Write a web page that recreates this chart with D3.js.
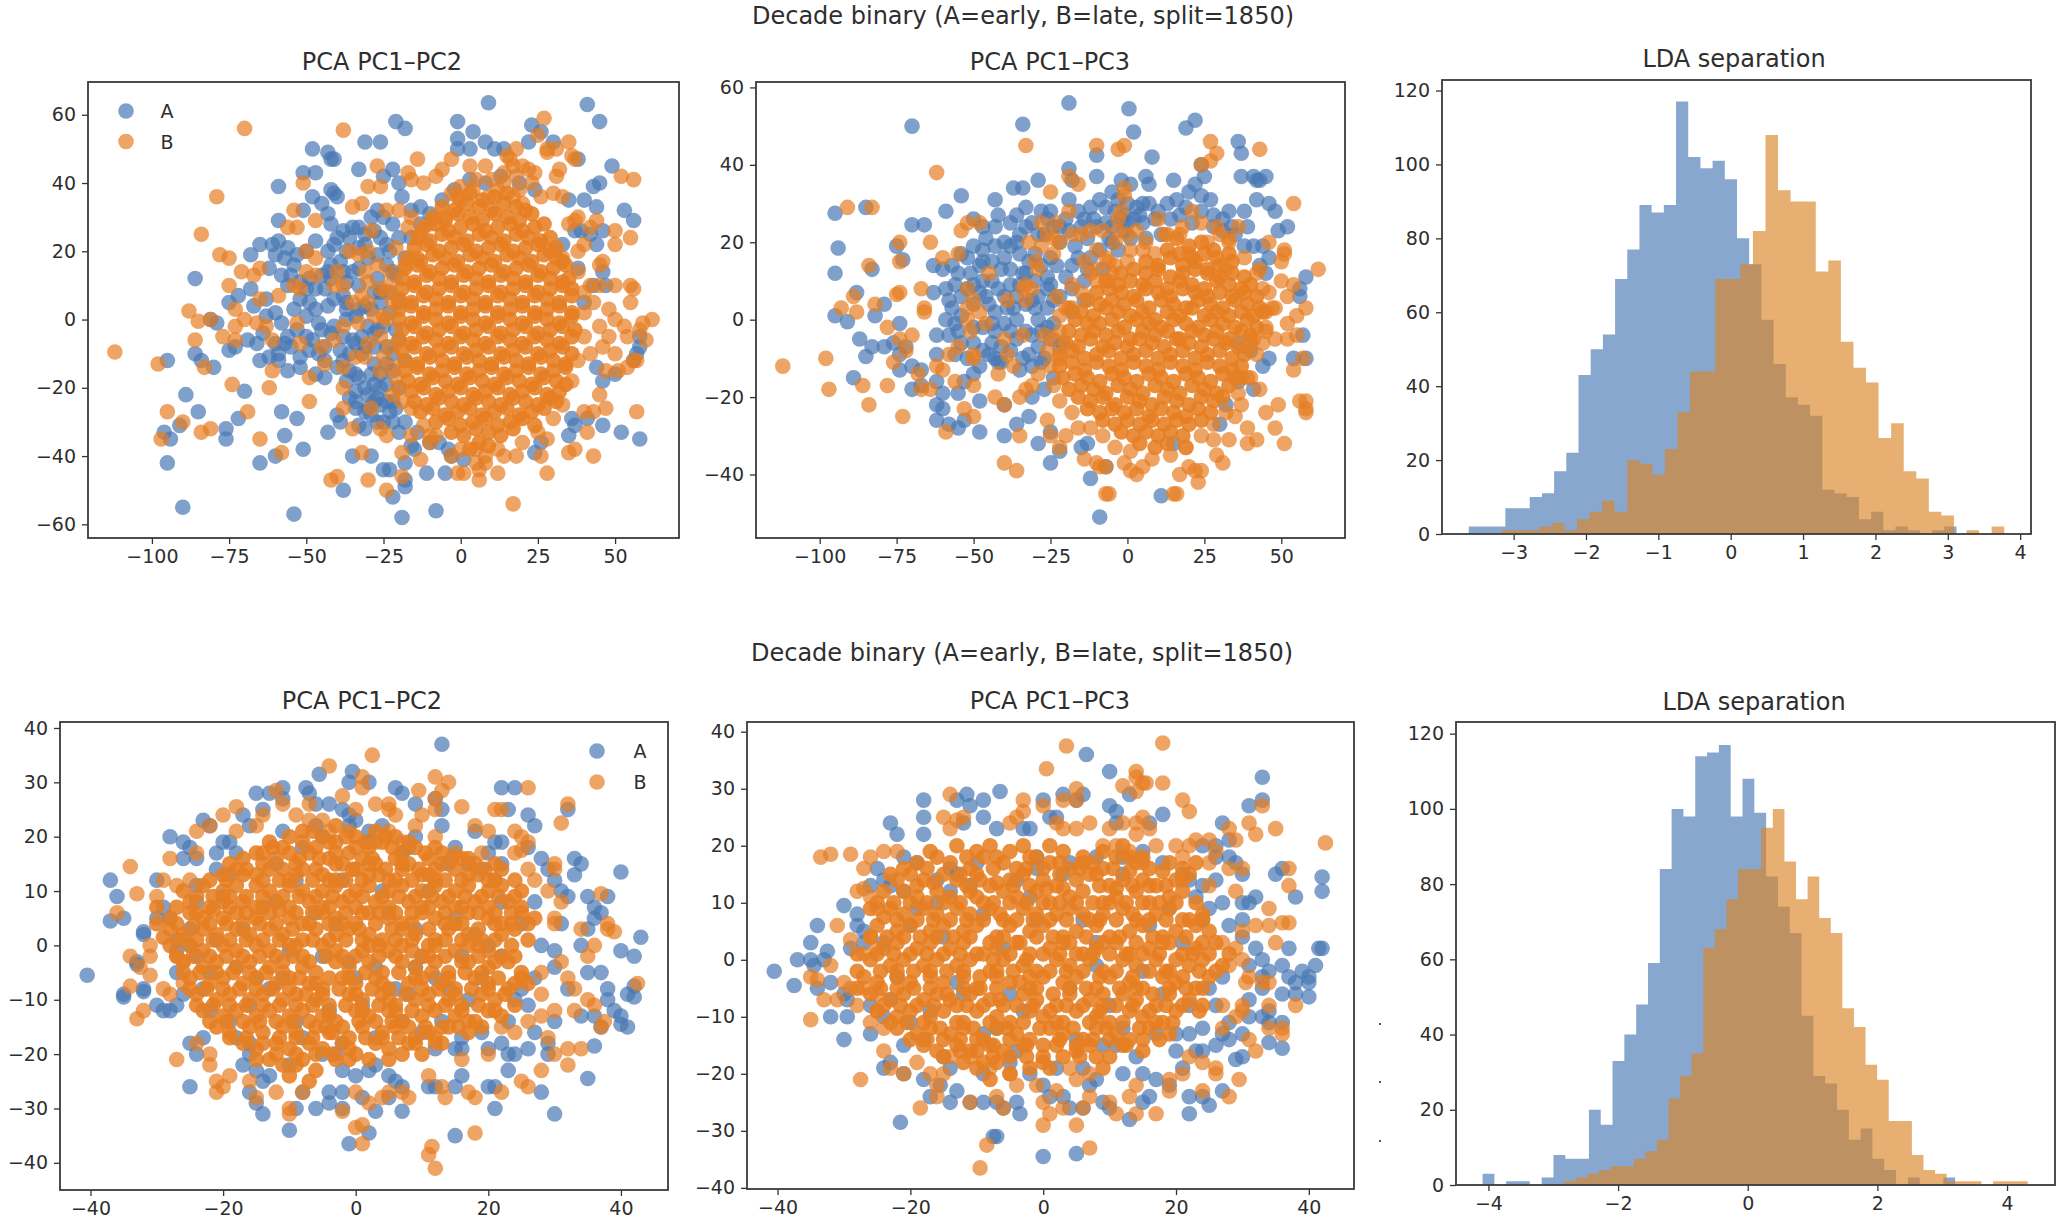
<!DOCTYPE html>
<html><head><meta charset="utf-8">
<style>html,body{margin:0;background:#fff}svg{display:block}text{font-family:"DejaVu Sans";fill:#2e2e2e}</style>
<script src="https://cdnjs.cloudflare.com/ajax/libs/d3/7.8.5/d3.min.js"></script></head><body><script>
const BLUE="#4878b4",ORANGE="#e67e22",HIST_ORANGE="#da8526";
const classLabels=["A","B"];
const superTitle="Decade binary (A=early, B=late, split=1850)";

// LDA histograms: counts per bin and the range the bins cover
const ldaTopA=[2,2,2,7,7,10,11,17,22,43,50,54,69,77,89,87,89,117,102,99,101,96,80,73,58,46,37,35,32,12,11,10,4,6,1,2,1,0,1,2];
const ldaTopB=[1,1,1,2,3,1,4,6,9,6,20,19,16,23,33,44,44,69,69,73,82,108,93,90,90,71,74,52,45,41,26,30,17,15,6,5,0,1,0,2];
const ldaBotA=[3,0,1,1,0,2,8,7,7,20,16,33,40,48,59,84,100,98,114,115,117,98,108,99,82,74,67,45,29,27,20,12,15,7,4,0,2,0,0,2];
const ldaBotB=[1,2,3,4,5,5,7,9,12,23,29,35,63,68,76,84,84,95,100,86,76,82,71,67,47,42,32,28,17,17,8,4,3,1,1,1,0,1,1,1];

// Top row, PC1 against PC2 (flat x,y lists)
const top12A=[9,63.5,41,63,45,58,-21,58,-18,56,-1,58,-1,53,4,55,-1,50,3,50,8,52,11,50,14,50,22,52,23,57,26,55,30,52,-31,52,-26,52,-48,50,-43,49,-42,47,-41,47,38,47,49,45,-33,44,-22,44,-20,40,-25,42,-51,43,-47,43,-59,39,-42,38,-41,37,-40,36,-48,36,-45,34,-51,32,-43,31,-42,28,-59,29,43,39,45,40,40,35,35,35,44,33,53,32,56,29,37,26,39,26,-38,26,-35,27,-33,27,-31,25,-29,30,-28,26,-27,32,-25,30,-22,28,-19,36,-16,32,-13,33,-65,22,-61,22,-59,23,-56,21,-60,19,-54,16,-50,20,-47,23,-43,20,-41,22,-42,16,-39,17,-37,20,-33,21,-30,18,-27,19,-24,16,-22,14,-68,19,-86,12,-68,9,-72,7,-75,5,-67,4,-63,6,-60,2,-58,-1,-52,6,-49,5,-47,3,-45,-3,-41,-2,-38,-5,-35,-6,-32,-5,-30,-2,-36,-10,-44,-8,-46,-10,-53,-3,-56,-5,-60,-7,-64,-4,-66,-7,-69,-6,-73,-8,-75,-9,-79,-1,-81,0,-59,-10,-62,-11,-65,-12,-52,-11,-52,-14,-56,-15,-59,-12,-47,-16,-44,-17,-86,-10,-84,-12,-80,-14,-95,-12,-89,-22,-85,-27,-91,-31,-96,-33,-94,-35,-76,-32,-76,-35,-72,-29,-70,-21,-58,-27,-53,-29,-57,-34,-51,-38,-60,-40,-65,-42,-95,-42,-90,-55,-54,-57,-19,-58,-8,-56,-22,-52,-18,-49,-18,-47,-38,-50,-18,-42,-11,-45,-5,-45,-25,-44,-23,-44,-35,-40,-29,-40,-43,-33,-39,-30,-40,-28,-33,-31,-31,-32,-29,-28,-25,-30,-22,-30,-20,-33,-16,-37,-15,-38,-7,-36,-3,-40,24,-39,26,-36,36,-29,37,-31,46,-31,52,-33,58,-35,46,-18,44,-14,50,-16,56,-12,58,-8,58,-5,57,-10,42,25,44,22,46,26,33,22,43,10,46,14,47,10,38,15,40,5,-33,-17,-31,-20,-30,-22,-28,-19,-27,-23,-34,-21,-36,-23,-26,-20,-24,-24,-22,-15,-20,-20,-18,-12,-24,-8,-21,-3,-20,5,-26,8,-29,3,-33,10,-37,11,-42,12,-47,9,-52,11,-55,13,-57,18,-24,-13,-28,-13,-32,-10,-40,-14,-37,-18,-23,2,-27,-3,-34,1,-37,5,-43,4,-48,-6,-39,-9,-26,-16,-23,-27,-20,24,-24,22,-27,12,-31,4,-35,14,-38,7,-28,-8,-25,-2,-22,-10,-20,-6,-26,5,-23,8,-21,13,-18,18,-16,24,-13,28,-10,31,-6,35,-2,38,3,41,8,40,13,42,19,40,24,38,-30,-26,-27,-30,-24,-19,-21,-26,-18,-30,-14,-33,-10,-36,-4,-38,1,-41,35,-34,41,-29,-34,-26,-36,-15,-45,13,-50,9,-44,-12,-49,-9,-55,-8,-54,3,-50,1,-46,-1,-42,-4,-37,0,-33,3,-31,-8,-28,-4,-34,-7,-41,6,-44,9,-49,12,-53,19,-58,13,-62,15,-56,10,-63,1,-57,-7,-50,-5,-38,-12,-34,-16,-29,-16,-26,-25,-34,-24,-31,-27,-22,-24,-28,-24,-40,24,-36,24,-31,22,-26,24,-23,20,-28,8,-33,15,-38,14,-43,14,-37,3];
const top12B=[-70,56,-38,55.5,27,59,25,54,35,52,28,50,31,50,-27,45,-51,40,-79,36,-30,39,-26,39,52,42,56,41,-14,47,-17,43,-16,41,-35,33,-32,34,-54,32,-47,29,-29,26,-56,27,-53,27,-84,25,50,26,55,24,50,22,-78,19,-75,18,-71,14,-67,13,-65,15,-75,10,-88,2.5,-85,-0.5,-81,0,-73,3,-70,0,-65,6,-59,7,-54,10,-52,9,-50,14,-50,20,-47,18,-47,13,-40,14,-38,10,-41,10,-36,20,-33,19,-30,20,-31,14,-27,16,-30,11,-35,5,-32,7,-26,9,-23,10,-22,5,-30,5,-28,1,-25,1,-63,-2,-61,-6,-73,-2,-77,-5,-73,-6,-86,-6,-112,-9.5,-98,-13,-83,-14,-66,-1,-53,-1,-52,-7,-45,-8,-41,-6,-38,-2,-33,-1,-30,-7,-26,-5,-44,-13,-38,-14,-34,-11,-31,-11,-25,-11,-26,-15,-61,-15,-49,-17,-74,-19,-62,-20,-38,-20,-49,-24,-69,-27,-38,-26,-29,-26,-22,-22,-95,-27,-90,-30,-81,-32,-84,-33,-97,-35,-65,-35,-58,-39,-35,-32,-26,-32,-24,-34,-32,-39,-19,-39,-13,-41,-40,-46,-42,-47,-30,-47,-24,-50,-19,-46,-16,-34,-10,-34,-3,-40,-10,-36,-1,-45,1,-45,6,-47,12,-45,17,-54,5,-42,8,-40,14,-40,18,-40,26,-40,28,-45,35,-39,37,-38,43,-40,28,-35,41,-33,40,-27,43,-27,47,-26,57,-27,45,-22,51,-15,54,-14,56,-12,57,-12,47,-15,60,-6,58,-3,59,-1,62,0,55,5,55,10,56,9,50,10,46,17,45,10,42,10,43,5,50,0,53,-2,48,-5,50,-10,42,-10,46,-8,54,-5,45,-2,48,3,15,48,18,50,17,45,14,43,8,45,3,45,-3,47,-6,44,22,44,24,43,32,44,31,42,36,48,37,47,28,49,33,36,30,37,26,36,35,28,38,30,37,29,44,29,42,27,38,20,40,22,33,18,45,16,-12,40,-8,42,-3,37,0,35,4,38,9,36,12,38,17,36,20,34,-5,30,-16,30,-20,32,-17,27,-13,25,-10,28,-24,32,-21,21,-18,16,-14,18,14,40,18,42,20,45,16,47,19,38,23,40,10,41,5,41,0,39,5,-38,8,-42,6,-44,0,-38,12,-38,20,-36,25,-33,30,-29,33,-25,36,-18,38,-12,40,-5,40,2,40,8,38,14,-16,-26,-20,-20,-22,-14,-23,-8,-24,0,-24,8,-23,14,-21,-17,-19,-24,-12,-31,-8,-34];
const top12Core=[-1,36,3,37,7,35,11,36,15,37,-6,33,-2,32,2,34,6,33,10,32,14,34,18,33,21,32,-9,30,-5,29,-1,31,3,30,7,29,11,31,15,30,19,29,23,31,-12,27,-8,28,-4,26,0,27,4,28,8,26,12,27,16,28,20,26,24,27,27,28,-14,24,-10,23,-6,25,-2,24,2,23,6,25,10,24,14,23,18,25,22,24,26,23,29,24,-15,21,-11,22,-7,20,-3,21,1,22,5,20,9,21,13,22,17,20,21,21,25,22,29,20,31,21,-17,18,-13,17,-9,19,-5,18,-1,17,3,19,7,18,11,17,15,19,19,18,23,17,27,19,31,18,33,17,-18,15,-14,16,-10,14,-6,15,-2,16,2,14,6,15,10,16,14,14,18,15,22,16,26,14,30,15,34,16,-19,12,-15,11,-11,13,-7,12,-3,11,1,13,5,12,9,11,13,13,17,12,21,11,25,13,29,12,33,11,35,12,-19,9,-15,10,-11,8,-7,9,-3,10,1,8,5,9,9,10,13,8,17,9,21,10,25,8,29,9,33,10,36,9,-20,6,-16,5,-12,7,-8,6,-4,5,0,7,4,6,8,5,12,7,16,6,20,5,24,7,28,6,32,5,36,7,-20,3,-16,4,-12,2,-8,3,-4,4,0,2,4,3,8,4,12,2,16,3,20,4,24,2,28,3,32,4,36,2,-20,0,-16,-1,-12,1,-8,0,-4,-1,0,1,4,0,8,-1,12,1,16,0,20,-1,24,1,28,0,32,-1,36,1,-19,-3,-15,-2,-11,-4,-7,-3,-3,-2,1,-4,5,-3,9,-2,13,-4,17,-3,21,-2,25,-4,29,-3,33,-2,37,-3,-20,-6,-16,-7,-12,-5,-8,-6,-4,-7,0,-5,4,-6,8,-7,12,-5,16,-6,20,-7,24,-5,28,-6,32,-7,36,-5,-19,-9,-15,-8,-11,-10,-7,-9,-3,-8,1,-10,5,-9,9,-8,13,-10,17,-9,21,-8,25,-10,29,-9,33,-8,36,-10,-18,-12,-14,-13,-10,-11,-6,-12,-2,-13,2,-11,6,-12,10,-13,14,-11,18,-12,22,-13,26,-11,30,-12,34,-13,-18,-15,-14,-14,-10,-16,-6,-15,-2,-14,2,-16,6,-15,10,-14,14,-16,18,-15,22,-14,26,-16,30,-15,34,-14,-17,-18,-13,-19,-9,-17,-5,-18,-1,-19,3,-17,7,-18,11,-19,15,-17,19,-18,23,-19,27,-17,31,-18,34,-19,-16,-21,-12,-20,-8,-22,-4,-21,0,-20,4,-22,8,-21,12,-20,16,-22,20,-21,24,-20,28,-22,32,-21,-15,-24,-11,-25,-7,-23,-3,-24,1,-25,5,-23,9,-24,13,-25,17,-23,21,-24,25,-25,29,-23,31,-24,-13,-27,-9,-26,-5,-28,-1,-27,3,-26,7,-28,11,-27,15,-26,19,-28,23,-27,27,-26,-8,-30,-4,-29,0,-31,4,-30,8,-29,12,-31,16,-30,20,-29,24,-31,-3,-33,1,-34,5,-32,9,-33,13,-34,17,-32,6,-36,9,-37,3,-38];

// Top row, PC1 against PC3
const top13A=[-19,56,0.5,54.5,-70,50,-34,50.5,22,51.5,19,49.5,2,48.5,36,46,37,43,8,42,-10,42.5,-19,39,24,40,-18,36,-10,37,-2,36,1,35,6,37,7,35,15,36,22,35,25,37,37,37,41,37,42,36,43,36,45,37,-29,36,-34,34,-37,34,-54,32,-59,28,-43,31,-95,27.5,-85,29,-70,24.5,-66,24.5,-50,26,-47,24,-42,27,-38,25,-36,27,-33,29,-28,28,-25,28,-19,31,-16,28,-9,31,-5,33,-3,31,0,30,3,29,10,28,13,30,16,31,20,33,24,32,27,31,33,28,38,28,42,31,46,30,48,28,49,23,52,24,44,19,46,16,45,12,58,11,56,8,56,6,-94,18.5,-95,12,-83,13,-75,19,-73,15.5,-63,14,-60,13,-57,14,-54,17,-50,19,-47,18,-43,19,-40,16,-35,17,-32,15,-28,14,-25,16,-22,20,-19,23,-15,24,-11,26,-7,25,-5,24,-2,26,5,25,-63,7,-59,8,-56,9,-54,6,-51,12,-47,10,-44,10,-41,13,-38,9,-34,12,-30,10,-57,3,-59,0,-54,1,-50,4,-46,6,-43,2,-40,6,-37,3,-33,4,-29,0,-26,3,-22,6,-18,8,-62,-4,-58,-4,-55,-3,-50,-6,-47,-2,-44,-6,-40,-1,-36,-5,-33,-3,-29,-7,-25,-5,-62,-9,-56,-9,-52,-10,-48,-12,-45,-9,-42,-11,-38,-8,-34,-10,-31,-12,-27,-10,-95,1,-91,-0.5,-87,-5,-85,-9.5,-83,-7,-79,-7,-74,-1,-72,-7,-76,-6,-74,-9,-88,7,-79,4,-82,1,-89,-15,-74,-13,-70,-12,-67,-13,-70,-18,-67,-17,-62,-16,-60,-19,-62,-22,-60,-23,-62,-26,-58,-27,-55,-28,-53,-26,-55,-19,-53,-16,-50,-14,-48,-21,-48,-29,-40,-30,-40,-22,-36,-27,-32,-25,-29,-32,-25,-37,-25,-29,-22,-34,-15,-33,-13,-32,-12,-41,-7,-38,-31,-20,-27,-18,-24,-15,-9,-51,11,-45.5,15,-32,58,-10,54,-10,46,-10,57,-4,41,-18,36,-16,32,-22,30,-27,40,-8,36,-6,44,-12,-12,29,-7,29,-1,27,5,30,9,26,19,29,28,24,31,26,35,22,39,24,41,19,43,14,-14,26,-20,26,-24,24,-29,22,-33,24,-36,20,-43,24,-38,13,-44,15,-48,14,-52,8,-56,-1,-43,-3,-36,0,-31,5,-26,8,-28,-3,-35,-13,-41,-7,-47,-8,-23,14,-20,11,-16,16,-13,21,-10,24,-6,21,-3,18,1,21,4,27,7,30,11,22,14,26,17,27,21,25,24,28,28,27,31,23,34,24,38,19,-26,11,-30,17,-35,22,-40,20,-46,21,-52,16,-48,7,-42,8,-36,6,-30,3,-24,-1,-21,-6,-25,9,-18,14,-14,10,-12,16,-8,13,-5,20,-1,23,2,26,-27,22,-31,25,-26,26,-22,24,-17,19,-13,13,-9,18,-4,28,0,25,6,21,-38,19,-33,12,-29,6,-24,5,-18,2,-14,5,-44,-1,-39,3,-35,9,-31,-4,-26,-2,-22,-7,-45,4,-50,9,-55,12,-58,5,-47,15,-41,-11,-38,-3,-32,-9,-28,-11,-50,-2,-54,-6,-43,-10];
const top13B=[-112,-12,-98,-10,-97,-18,-86,-17,-84,-22,-78,-17,-73,-25,-82,4,-88,2,-93,3,-89,6,-84,14,-74,15,-75,6.5,-74,7,-67,8,-66,3,-66,2,-78,-2,-62,38,-91,29,-83,29,-74,20,-64,20,-60,16,-54,23,-52,25,-48,25,-33,45,-10,45,-3,44,-1,45,-32,20,-28,25,-25,33,-19,37,-16,35,-1,34,-1,32,27,46,29,43,27,41,24,40,43,44,54,30,-2,28,3,23,-3,26,-3,23,0,22,-23,25,-26,22,-22,20,-18,22,-15,22,-12,23,-8,23,-19,28,-24,21,-28,19,-24,17,-30,15,-29,13,-33,9,-31,8,-52,8,-50,5,-52,3,-48,2,-52,0,-51,-3,-55,-7,-50,-9,-58,-9,-60,-13,-56,-16,-62,-12,-70,-4,-74,-5,-72,-8,-76,-11,-68,-14,-64,-18,-67,-18,-46,-1,-40,-5,-39,-9,-37,-12,-34,-4,-33,5,-27,-4,-22,-3,-20,3,-18,9,-14,15,-10,18,-7,16,-4,14,-4,20,1,18,-22,-10,-26,-8,-29,-14,-31,-17,-35,-20,-42,-14,-43,-20,-40,-22,-50,-17,-53,-23,-50,-25,-59,-29,-35,-30,-33,-18,-26,-26,-25,-30,-22,-33,-20,-30,-16,-28,-14,-36,-10,-37,-9,-38,-7,-38,-40,-37,-36,-39,-6,-45,-7,-45,-1,-37,1,-39,3,-40,5,-38,15,-45,16,-45,17,-40,20,-38,19,-33,22,-39,24,-39,23,-42,29,-35,31,-37,28,-31,33,-31,39,-32,42,-31,39,-28,45,-24,49,-22,51,-32,56,-21,58,-21,58,-24,58,-23,54,-13,57,-10,48,-5,45,-3,52,-5,55,-4,52,-1,58,3,55,1,48,3,52,6,50,10,54,9,50,15,51,18,51,17,62,13,45,2,44,8,46,20,43,13,30,22,33,20,36,24,32,13,26,20,20,17,17,22,13,22,10,26,21,28,9,17,6,20,-6,10,-10,13,-18,3,-23,6,-39,5,-34,8,-45,12,-55,17,-50,-10,48,-28,37,-22,35,-25,40,-15,43,-18,44,-6,41,-5,37,-15,-24,-5,-25,-12,-24,-17,-22,-21,-18,-24,-12,-28,-8,-30,-4,-33,1,-34,8,-36,14,-35,19,-33,24,-30,28,-27,32,-24,36,-19,39,-15,42,-9,45,-2,47,3,46,7,42,12,38,16,33,21,29,24,24,25,18,24,12,22,5,18,0,15,-5,12,-10,10,-15,7,-19,3,-22,1,-6,15,-12,12];
const top13Core=[16,21,20,19,24,20,28,18,13,18,17,17,21,16,25,17,29,16,33,17,6,15,10,14,14,16,18,14,22,15,26,13,30,14,34,15,-2,12,2,13,6,12,10,13,14,11,18,12,22,13,26,12,30,11,34,12,38,11,-7,10,-3,9,1,10,5,9,9,10,13,8,17,10,21,9,25,8,29,10,33,9,37,8,40,9,-10,7,-6,8,-2,7,2,6,6,8,10,7,14,6,18,8,22,7,26,6,30,7,34,6,38,7,42,6,-13,5,-9,4,-5,5,-1,4,3,5,7,3,11,5,15,4,19,3,23,5,27,4,31,3,35,5,39,4,43,3,-15,2,-11,1,-7,3,-3,2,1,1,5,2,9,0,13,2,17,1,21,3,25,1,29,2,33,1,37,2,41,1,44,2,-17,0,-13,-1,-9,-1,-5,0,-1,-2,3,0,7,-1,11,-2,15,0,19,-1,23,-2,27,0,31,-1,35,-2,39,0,42,-2,-19,-3,-15,-4,-11,-3,-7,-4,-3,-3,1,-5,5,-3,9,-4,13,-3,17,-5,21,-3,25,-4,29,-3,33,-5,37,-3,40,-4,-20,-6,-16,-7,-12,-5,-8,-7,-4,-6,0,-7,4,-5,8,-6,12,-7,16,-5,20,-6,24,-7,28,-5,32,-6,36,-7,40,-6,-22,-9,-18,-8,-14,-10,-10,-9,-6,-8,-2,-10,2,-9,6,-8,10,-10,14,-9,18,-8,22,-10,26,-9,30,-8,34,-10,38,-9,-22,-12,-18,-11,-14,-13,-10,-11,-6,-12,-2,-13,2,-11,6,-12,10,-13,14,-11,18,-12,22,-13,26,-11,30,-12,34,-13,37,-12,-21,-15,-17,-14,-13,-15,-9,-16,-5,-14,-1,-15,3,-16,7,-14,11,-15,15,-16,19,-14,23,-15,27,-16,31,-14,35,-15,-19,-18,-15,-17,-11,-18,-7,-19,-3,-17,1,-18,5,-19,9,-17,13,-18,17,-19,21,-17,25,-18,29,-19,33,-17,-16,-20,-12,-21,-8,-20,-4,-22,0,-20,4,-21,8,-22,12,-20,16,-21,20,-22,24,-20,28,-21,31,-20,-13,-23,-9,-24,-5,-23,-1,-24,3,-23,7,-25,11,-23,15,-24,19,-25,23,-23,27,-24,-8,-26,-4,-27,0,-26,4,-27,8,-26,12,-27,16,-26,20,-27,24,-26,-2,-29,2,-30,6,-29,10,-30,14,-29,18,-30,4,-32,9,-33,13,-32];

// Bottom row, PC1 against PC2
const bot12A=[-40.5,-5.5,-37,4.5,-37,12,-36,9,-35,-9,-35,-9.5,-35,5,-33,-3.5,-33,-3,-32,2,-32,2.5,-32,-8,-32,-8.5,-30,-11,-30,5,-30,12,-29,7,-29,-12,-28,-12,-27,-11,-28,20,-26,19,-26,16,-25,18,-24,16,-25,-18,-25,-26,-24,-20,-23,-17,-27,-5,-27,1,-27,-1,-25,3,-24,-2,-24,8,-23,23,-22,22,-21,17,-20,19,-18,17,-17,24,-16,-18,-16,22,-15,28,-14,25,-13,28,-11,27,-11,29,-7.5,29,-7,28,-6,26,-5.5,31.5,-4,26,-2,25,-1,30,-0.5,32,-1,24,-1,22,0,23,2,30,2,21,2,19,6,29,7,28,7,17,8,18,9,26,12,27,13,25,13,37,13,22,15,18,17,15,18,21,19,14,20,17,21,19,22,19,22,29,24,29,23,25,26,24,27,22,26,18,28,16,29,14,30,12,31,10,32,9,32,25,33,16,33,13,34,15,35,9,36,7,36,5,37,6,35,3,34,0,30,-1,30,-4,32,-8,35,-5,37,-5,38,-8,38,-10,39,-12,41,-9,40,-13,43,1.5,40,-1,42,-2,42,-7.5,42,-9.5,34,-13,36,-13,37,-15,40,-14.5,41,-15,36,-18.5,35,-24.5,29,-20,28,-27,30,-31,21,-30,29,-18,27,-16,26,-19,24,-20,23,-20,22,-18,20,-19,16,-17,16,-19,15,-19,23,-23,21,-26,20,-26,16,-24,15,-26,12,-26,11,-26,15,-35,7,-30.5,7,-26,6,-25,5,-28,5,-24,3,-30.5,1,-28,2,-34.5,-1,-36.5,-2,-30,-2,-27,0,-24,2,-23,3,-22,-2,-23,-4,-27,-4,-29,-6,-30,-9,-30,-10,-34,-14,-31,-15,-29,-16,-27,-14,-25,-13,-24,-15,-23,-17,-22,-16,-20,-18,-17,-8,-27,-10,-22,-5,-20,-2,-18,3,-17,10,-16,13,-14,24,-10,27,-6,22,-2,20,0,10,-2,9,-4,-1,-3,-5,-2,-25,0,-24,11,-21,14,-19,13,-12,15,-8,18,-5,20,8,-9,14,-8,-16,-11,-23,-8,-22,-5,-26,-9,40,13.5,38,9,30,-14,-3,4,4,10,9,3,15,5,19,-6,25,4,26,-11,6,-8,-11,-6,-17,3,-12,8,-19,-14,-9,-14,1,-11,17,-10,22,8,-21,1,-15,-6,-10,-1,-6,6,-2,12,3,-4,7,-14,12,-6,18,2,23,-14,28,0,31,4,-20,9,-14,7,-9,12,-4,-12,0,-6,5,6,11,10,16,-2,21,12,27,8,-22,-12,-18,-4,-13,-8,-8,-17,-3,-20,12,-19,19,-16,25,-8,-28,5,-19,19,-11,21,-6,22,4,22,9,20,14,15,22,15];
const bot12B=[2.5,35,-4,33,1,31,1,29,-2,27.5,12,31,13,28.5,14,30,3,26,5,26,5,25,6,24,9.5,28.5,12,25,12,27,16,25.5,26,29,32,26,31,22.5,26,19,25,20,25,17.5,30,15,30,14,37,9.5,31,8,30,5,30,4,34,3,38,4,38,3,36,0,39,2.5,42.5,-7,35,-10,36,-11,37,-15,37.5,-14,34,-19,29,-17,32,-19,30,-20,32,-22,28,-23,25,-25,26,-26,22,-27,18,-28,17,-27,13,-26,13.5,-28,11,-24,18,-34.5,12,-41,11,-38.5,11.5,-37,1,-36.5,0,-33.5,1,-33,-2,-30.5,2,-29,4,-28,5,-27,7,-27,8,-28,0,-27,-10,-30,-10,-31,-8,-27,-12,-27,-15,-28,-21,-25,-21,-27,-19,-24,-20,-26,-22,-20,-24,-18,-27,-21,-22,-22,-16,-25,-33,-13.5,-32,-12,-34,-7.5,-29,-8,-31,-5.5,-32.5,-4,-34,-2,-31,-2,-31,0,-27,-2,-26,-3,-26,-7,-28,-9,-36,6,-34,14.5,-33,9.5,-30,9,-29,12,-28,16,-27,11,-25,12,-24,17,-24,21,-22,22,-20,24,-18,21,-18,25.5,-14,24,-15,22,-12,28.5,-11,26,-9,24,-7,26,-7,23,-5,23,-4,21,0,25,-1,21,3,19,5,21,7,19,9,22,10,24,12,20,15,17,17,15,19,17,20,21,21,25,22,25,18,22,24,17,26,14,27,12,29,10,24,21,33,-12,32,-6,33,-8,31,-3,28,-5,35,-2,28,-9,24,-16,26,-14,22,-15,20,-20,16,-21,12,-18,28,-13,30,-12];
const bot12Core=[-8,21,-5,20,-3,22,0,20,3,21,6,20,-13,19,-11,18,-8,19,-6,18,-3,19,-1,17,2,18,4,19,7,17,9,18,12,18,-17,16,-14,17,-12,16,-9,15,-7,17,-4,16,-2,15,1,16,3,15,6,16,8,15,11,16,13,15,16,16,18,15,-20,13,-18,14,-15,13,-13,14,-10,12,-8,14,-5,13,-3,12,0,14,2,13,5,12,7,14,10,13,12,12,15,14,17,13,20,12,22,14,-23,11,-20,10,-18,11,-15,11,-13,10,-10,11,-8,10,-5,10,-3,11,0,10,2,11,5,10,7,11,10,10,12,11,15,10,17,11,20,10,22,11,25,10,-25,8,-22,7,-20,8,-17,8,-15,7,-12,8,-10,7,-7,8,-5,7,-2,8,0,7,3,8,5,7,8,8,10,7,13,8,15,7,18,8,20,7,23,8,25,7,-28,5,-25,6,-23,5,-20,5,-18,6,-15,5,-13,6,-10,5,-8,4,-5,6,-3,5,0,4,2,6,5,5,7,4,10,6,12,5,15,4,17,6,20,5,22,4,25,6,-28,3,-26,2,-23,3,-21,2,-18,3,-16,2,-13,3,-11,2,-8,1,-6,3,-3,2,-1,3,2,2,4,1,7,3,9,2,12,1,14,3,17,2,19,1,22,2,24,3,-28,0,-25,0,-23,-1,-20,0,-18,-1,-15,0,-13,-1,-10,0,-8,-2,-5,0,-3,-1,0,-2,2,0,5,-1,7,0,10,-2,12,0,15,-1,17,0,20,-1,22,-2,-26,-3,-23,-4,-21,-3,-18,-4,-16,-3,-13,-4,-11,-3,-8,-4,-6,-5,-3,-3,-1,-4,2,-3,4,-5,7,-3,9,-4,12,-3,14,-5,17,-3,20,-4,23,-3,25,-5,-25,-6,-22,-7,-20,-6,-17,-7,-15,-6,-12,-7,-10,-6,-7,-7,-5,-8,-2,-6,0,-7,3,-6,5,-8,8,-7,10,-6,13,-7,15,-8,18,-6,20,-7,23,-8,25,-6,-24,-9,-21,-10,-19,-9,-16,-10,-14,-9,-11,-10,-9,-9,-6,-10,-4,-11,-1,-9,1,-10,4,-9,6,-11,9,-10,11,-9,14,-10,16,-11,19,-9,21,-10,24,-11,-23,-12,-20,-13,-18,-12,-15,-13,-13,-12,-10,-13,-8,-12,-5,-13,-3,-14,0,-12,2,-13,5,-12,7,-14,10,-13,12,-12,15,-13,17,-14,20,-12,22,-13,-21,-15,-19,-16,-16,-15,-14,-16,-11,-15,-9,-16,-6,-15,-4,-16,-1,-17,1,-15,4,-16,6,-15,9,-17,11,-16,14,-15,17,-16,19,-15,-17,-18,-15,-19,-12,-18,-10,-19,-7,-18,-5,-19,-2,-18,0,-20,3,-18,5,-19,8,-18,10,-20,13,-18,-13,-21,-11,-22,-8,-21,-6,-23,-3,-21,5,-21,-10,-24,-7,-25,-9,-22,
  -10,20,-6.5,21,-4,19,-1.5,20,1.5,19,4.5,20,8,19,-15,17,-12.5,18,-10,17,-5.5,16,-3,17,0,18,2.5,16,5.5,18,10.5,17,13,17,17,16,-19,15,-16.5,14,-14,15,-11,14,-8.5,16,-6,14,-3,15,-0.5,14,2,15,4.5,14,7,15,9.5,14,12,14,14.5,16,19.5,14,21,15,-22,12,-19.5,12,-17,13,-14,12,-11.5,12,-9,13,-6.5,12,-4,12,-1.5,12,1,12,3.5,13,6,12,8.5,12,11,13,13.5,12,16,12,18.5,13,21,12,24,12,-26,10,-24,9,-21.5,9,-19,9,-16.5,9,-14,9,-11,9,-8.5,9,-6,9,-3.5,9,-1,9,1,9,4,9,6.5,9,9,9,11.5,9,14,9,16.5,9,19,9,21.5,9,24,9,-30,7,-27,7,-24,6,-21.5,6.5,-19,7,-16.5,6,-14,7,-11.5,6.5,-9,6,-6.5,6,-4,7,-1.5,6,1,6,3.5,6,6,6,8.5,6,11,7,13.5,6,16,7,18.5,6,21,6,23.5,6,27,5,-30,4,-27,4,-24.5,3.5,-22,4,-19.5,4,-17,4,-14.5,4,-12,4,-9.5,3,-7,4,-4,4,-2,4,0.5,3,3,4,5.5,3,8.5,4,11,3,13.5,4,16,4,18.5,3,21,4,23.5,4,26,4,-29,1.5,-26.5,1,-24,1,-21.5,1,-19,1,-16.5,1,-14,1,-11.5,1,-9,0,-6.5,1,-4,1,-1.5,1,1,1,3.5,0,6,1,8.5,1,11,0,13.5,1,16,1,18.5,0,21,1,23.5,0,26,1,-27,-2,-24.5,-2,-22,-2,-19.5,-2,-17,-2,-14.5,-2,-12,-2,-9.5,-2,-7,-3,-4.5,-2,-2,-2,1,-1,3.5,-2,6,-2,8.5,-1,11,-2,13.5,-2,16,-3,18.5,-2,21,-3,24,-2,-26,-5,-23.5,-5,-21,-5,-18.5,-5,-16,-5,-13.5,-5,-11,-5,-8.5,-6,-6,-7,-4,-6,-1,-6,1.5,-5,4,-7,6.5,-5,9,-6,11.5,-5,14,-6,16.5,-5,19,-5,21.5,-6,24,-7,26,-7,-25,-8,-22.5,-8,-20,-8,-17.5,-8,-15,-8,-12.5,-8,-10,-8,-7.5,-9,-5,-9,-2.5,-8,0,-9,2.5,-8,5,-10,7.5,-9,10,-8,12.5,-8,15,-9,17.5,-8,20,-8,22.5,-9,-24,-11,-21.5,-11,-19,-11,-16.5,-11,-14,-11,-11.5,-11,-9,-11,-6.5,-11,-4,-13,-1.5,-11,1,-12,3.5,-11,6,-12,8.5,-12,11,-11,13.5,-11,16,-12,18.5,-11,21,-12,-22,-14,-19.5,-14,-17,-14,-14.5,-14,-12,-14,-9.5,-14,-7,-14,-4.5,-15,-2,-15,0.5,-14,3,-14,5.5,-14,8,-15,10.5,-15,13,-15,15.5,-15,18,-14,-19,-17,-16.5,-17,-14,-18,-11.5,-17,-9,-17,-6.5,-17,-3.5,-16,-1,-19,1.5,-17,4,-17,6.5,-17,9,-18,12,-17,-15,-21,-12,-20,-9,-20,-6,-20,-3.5,-20,-1,-21,2,-21,7,-20];

// Bottom row, PC1 against PC3
const bot13A=[-40.5,-2,-37.5,-4.5,-37,0,-35,3,-34,6,-35,0,-34.5,-1,-33,0,-32.5,1.5,-34,-5,-32,-4,-32,-10,-30,-6,-29.5,-7,-30,-14,-30,9.5,-29.5,-10,-28,6,-28,8,-27,5,-29,2,-26,-8,-26,13,-25,16,-24,14,-23,-7,-24,-10,-23,13,-23,24,-22,22,-21,18,-19,17,-18,25,-18,22,-18,28,-16,14,-14,16,-14,12,-13,28,-12,24,-11.5,29,-11,27,-9,25,-9,28,-6.5,29.5,-7,23,-3,23,-2,23,0,28,1,25,2,25,3,29,5,28,6,29,6.5,36,10,33,10,27,11,26,11,24,13,29,16,24,18,25.5,15,19,18,17,12,18,8,18,4,17,-1,18,-1,16,-21,-15,-23,-18,-24,-19,-21,-20,-18,-21,-21.5,-28.5,-17,-24,-15.5,-22,-14,-25,-13,-23,-11,-25,-9,-25,-7,-25,-6,-26,-4,-25,-3.5,-27,-7.5,-31,-7,-31,0,-34.5,5,-34,3,-24,4,-26,6,-26,9,-25,10,-26,13,-28,15,-25,16,-24,19,-22,22,-27,22,-24,24,-24,25,-25.5,27,-23,21,-19,23,-16,20,-13,22,-13,24,-12,26,-15,27,-13,28,-14,28,-11,30,-13,29,-17.5,30,-17,31,-10,31,-7,33,-10,34,-11,36,-11,34,-14.5,36,-15.5,34,-9,36,-6,33,-5,33,-3,33,0,34,-2,36,-1,37,-3,38,-4,38,-6,39,-2,40,-3,40,-4,40,-6.5,41,-1,42,2,41.5,2,42,14.5,42,12,37,2,38,11,36,16,35,15,32,11,31,10,30,10,33,28,31,27,33,32,27,24,28,21,26,20,24,20,26,18,28,18,29,17,30,15,26,14,24,13,22,14,21,15,27,10,25,9,24,7,28,6,30,4,32,2,-9,-20,-5,-18,-2,-20,0,-22,2,-19,-15,-17,-14,-19,6,-19,8,-21,12,-20,15,-20,17,-21,9,-15,-18,-14,-13,-4,-19,9,-13,15,3,15,12,15,19,9,16,6,8,3,8,-1,15,-2,-3,-9,-5,-6,-11,13,-4,14,-20,6,22,-8,25,-5,-24,3,-9,-13,5,-14,12,-12,-22,-3,-17,-9,-12,-6,-6,2,-1,7,4,-5,10,-8,17,-13,21,3,27,-3,-26,-13,-20,-11,-15,4,-9,8,-2,11,6,7,11,-15,18,-6,24,-16,30,7,-27,3,-21,12,-16,10,-10,17,-4,-16,1,-24,7,-22,14,-17,20,-16,26,-8,31,-1,23,11,-7,-12];
const bot13B=[18,38,3.5,37.5,0.5,33.5,14,33,14,32,15,31,15.5,31,12,30.5,18,31,14,29.5,5,30,3,28,5,28,-14,29,-3,28,0,27,21,28,22,26,-15,25,-13,24.5,-12,25,-14,23,-3,26,-5,24,-4,25,2,24,3,23,5,23,7,24,10,23,12,24,14,24,15,25,14,22,16,23,28,23,25,21,31,24,32,22,33,27,35,23,29,21,42.5,20.5,37,16,37,13,34,9,36,6.5,37,6.5,34,6,35,3,30,5,32,6,29,12,25,13,28,16,25,17,26,19,30,16,22,20,20,20,23,21,21,18,17,20,15,17,13,19,11,20,9,20,-33.5,18,-32,18.5,-29,18.5,-26,18,-24,19,-22,19,-27,16,-27,12.5,-28,12,-26,11,-25,9,-31,6,-29,3.5,-27,1,-26,4,-25,2,-35,-3,-34,-3.5,-33,-7,-32,-1,-31,-7,-30,-4,-29,-5,-28,-8,-27,-5,-25,-6,-35,-10.5,-26,-11,-25,-9,-24,-12,-24,-16,-23,-19,-21,-20,-19,-18,-17,-20,-15,-20,-14,-17,-27.5,-21,-18.5,-26,-16,-24,-16,-22,-11,-25,-11,-17,-8,-19,-7,-24,-6,-26,-4,-22,-5,-20,-8.5,-32.5,-9.5,-36.5,7,-33,0,-29,0,-25,1,-27,3,-26,2,-23,-1,-22,5,-29,6,-26,7,-24,5,-21,4,-19,7,-20,10,-25,11,-27,14,-27,17,-27,13,-24,14,-22,19,-23,19,-21,21,-20,22,-17,24,-23,24,-18,26,-20,28,-24,26,-19,29.5,-21,32,-16,31,-14,30,-9,30,-8,29,-10,27,-12,27,-8,31,-3,30,0,30.5,-4,33,-4,34,-4,34,-8,36,-12,36,-13,34,-12,38,-8,28,-1,29,2,27,3];
const bot13Core=[-13,20,-10,19,-8,20,-5,19,-3,20,1,20,3,19,6,18,9,19,12,20,15,18,-19,17,-16,18,-14,17,-11,16,-9,18,-6,17,-4,16,-1,18,1,17,4,16,6,17,9,16,11,18,14,17,16,16,19,17,21,16,23,17,-23,15,-20,15,-18,14,-15,15,-13,14,-10,15,-8,13,-5,14,-3,15,0,14,2,13,5,14,7,15,10,13,12,14,15,14,17,13,20,14,22,15,-24,12,-21,12,-19,11,-16,12,-14,11,-11,12,-9,10,-6,12,-4,11,-1,12,1,10,4,11,6,12,9,10,11,11,14,12,16,10,19,11,21,12,-26,9,-23,9,-21,8,-18,9,-16,8,-13,9,-11,8,-8,9,-6,7,-3,9,-1,8,2,8,4,9,7,7,9,8,12,9,14,7,17,8,19,9,22,7,24,8,-25,6,-22,5,-20,6,-17,5,-15,6,-12,5,-10,6,-7,4,-5,6,-2,5,0,6,3,4,5,5,8,6,10,4,13,5,15,6,18,4,20,5,23,6,25,5,-24,2,-22,3,-19,2,-17,3,-14,2,-12,3,-9,1,-7,2,-4,3,-2,1,1,2,3,3,6,1,8,2,11,3,13,1,16,2,18,3,21,1,23,2,26,3,-26,0,-23,-1,-21,0,-18,-1,-16,0,-13,-1,-11,0,-8,-2,-6,0,-3,-1,-1,-2,2,0,4,-1,7,0,9,-2,12,0,14,-1,17,0,19,-2,22,-1,24,0,27,-1,-27,-3,-25,-4,-22,-3,-20,-4,-17,-3,-15,-4,-12,-3,-10,-5,-7,-3,-5,-4,-2,-5,0,-3,3,-4,5,-3,8,-5,10,-3,13,-4,15,-5,18,-3,20,-4,23,-5,25,-3,-26,-6,-23,-7,-21,-6,-18,-7,-16,-6,-13,-8,-11,-6,-8,-7,-6,-8,-3,-6,-1,-7,2,-8,4,-6,7,-7,9,-8,12,-6,14,-7,17,-8,19,-6,22,-7,24,-8,-25,-9,-22,-10,-20,-9,-17,-10,-15,-9,-12,-11,-10,-9,-7,-10,-5,-11,-2,-9,0,-10,3,-11,5,-9,8,-10,10,-11,13,-9,15,-10,18,-11,20,-9,-22,-12,-19,-13,-17,-12,-14,-13,-12,-12,-9,-14,-7,-12,-4,-13,-2,-14,1,-12,3,-13,6,-14,8,-12,11,-13,13,-14,16,-12,19,-13,-18,-15,-16,-16,-13,-15,-11,-16,-8,-15,-6,-16,-3,-15,0,-17,2,-15,5,-16,7,-15,10,-17,12,-15,15,-16,-12,-18,-10,-19,-7,-18,-2,-19,9,-19,-8,-21,
  -17,19,-11.5,18,-7,18,-2,18,2.5,17,7.5,17,13,18,-21,16,-17.5,16,-12.5,15,-7.5,16,-2.5,16,0,16,2.5,15,5.5,16,8,15,10.5,16,13,15.5,18,15.5,-22,14,-19,13,-16.5,13.5,-11.5,13,-9.5,14,-7,13.5,-4.5,13,-2,13,0.5,12.5,3,12.5,8.5,13,11,12.5,13.5,13,16,13,18.5,13,21,14,-25,10,-22.5,10,-20,10,-17.5,10,-15,10,-12.5,10,-10,11,-7.5,10,-5,10,-2.5,10,0,10,2.5,10,5,10,7.5,10,10,10,12.5,10,15,10,17.5,10,20,10,23,10,-24,7.5,-22,7,-19,7,-16.5,7,-14,7,-11.5,7,-9,7,-6.5,8,-4,7,-1.5,7,1,7,3.5,7,6,8,8.5,7,11,7,13.5,8,16,7,18.5,7,21,7,24,7,-26,4,-23.5,4,-21,4,-18.5,4,-16,4,-13.5,4,-11,4,-8,3,-6,4,-3.5,3,-1,4,1.5,4,4,3,6.5,4,9,3,11.5,4,14,3,16.5,4,19,3,21.5,4,24,3,-28,1,-25,1,-22.5,1,-20,1,-17.5,1,-15,1,-12.5,1,-10,1,-7.5,0,-5,1,-2.5,0,0,1,2.5,1,5,1,7.5,1,10,1,12.5,1,15,1,17.5,1,20,0,22.5,1,25,1,28,1,-28,-2,-24.5,-2,-22,-2,-19.5,-2,-17,-2,-14.5,-2,-12,-2,-9.5,-3,-7,-2,-4.5,-2,-2,-3,1,-2,3.5,-2,6,-2,8.5,-3,11,-2,13.5,-3,16,-2,18.5,-2,21,-3,23.5,-2,26,-2,-28,-5,-24.5,-5,-22,-5,-19.5,-5,-17,-5,-14.5,-6,-12,-5,-9.5,-5,-7,-5,-3.5,-4,-1,-5,1.5,-6,4,-5,6.5,-5,9,-6,11.5,-5,14,-5,16.5,-6,19,-5,21.5,-5,24,-5,-24,-8,-21.5,-8,-19,-8,-16.5,-8,-14,-7,-11.5,-8,-9,-8,-6.5,-7,-4,-8,-1.5,-8,1,-9,3.5,-8,6,-8,8.5,-9,11,-8,13.5,-8,16,-9,18.5,-8,21,-8,23.5,-9,-23,-11,-20.5,-11,-18,-11,-15.5,-12,-13,-11,-10.5,-12,-8,-11,-5.5,-12,-3,-11,-0.5,-12,2,-11,4.5,-12,7,-11,9.5,-12,12,-11,14.5,-12,17,-11,19.5,-11,-20,-14,-17.5,-14,-15,-14,-12.5,-14,-10,-14,-7.5,-15,-5,-14,-2.5,-15,0,-15,2.5,-14,5,-15,7.5,-14,10,-14,12.5,-15,15,-14,17.5,-14,-15,-17,-12.5,-16,-10,-16,-7.5,-17,-5,-17,-2.5,-17,0,-18,3,-17,5.5,-17,8,-17,-9,-18,-5,-20,1,-19];

const DOT_R=7.8;
const svg=d3.select("body").append("svg").attr("width",2062).attr("height",1226);
const pairs=a=>d3.range(0,a.length,2).map(i=>[a[i],a[i+1]]);

function frame(p){
  const g=svg.append("g");
  const x=d3.scaleLinear().domain(p.xd).range([p.l,p.r]);
  const y=d3.scaleLinear().domain(p.yd).range([p.b,p.t]);
  p.draw(g,x,y);
  const ax=g.append("g").attr("transform",`translate(0,${p.b})`).call(d3.axisBottom(x).tickValues(p.xt).tickSize(6).tickPadding(6));
  const ay=g.append("g").attr("transform",`translate(${p.l},0)`).call(d3.axisLeft(y).tickValues(p.yt).tickSize(6).tickPadding(6));
  [ax,ay].forEach(a=>{
    a.selectAll(".domain").remove();
    a.selectAll("line").attr("stroke","#333").attr("stroke-width",1.3);
    a.selectAll("text").attr("font-size",19).attr("fill","#2e2e2e").attr("font-family","DejaVu Sans");
  });
  g.append("rect").attr("x",p.l).attr("y",p.t).attr("width",p.r-p.l).attr("height",p.b-p.t)
    .attr("fill","none").attr("stroke","#3a3a3a").attr("stroke-width",1.8);
  g.append("text").attr("x",p.tx).attr("y",p.ty).attr("text-anchor","middle").attr("font-size",24).text(p.title);
}

// Two overlaid step histograms
function hist(a,ra,b,rb){
  return (g,x,y)=>{
    [[a,ra,BLUE],[b,rb,HIST_ORANGE]].forEach(([c,r,col])=>{
      const w=(r[1]-r[0])/c.length;
      const steps=c.map((v,i)=>[r[0]+i*w,v]).concat([[r[1],c[c.length-1]]]);
      g.append("path").datum(steps)
        .attr("d",d3.area().curve(d3.curveStepAfter).x(d=>x(d[0])).y0(y(0)).y1(d=>y(d[1])))
        .attr("fill",col).attr("opacity",.65);
    });
  };
}

// Scatter of both classes: A below, B above, then the dense B centre; legend is optional
function scatter(a,b,core,leg){
  return (g,x,y)=>{
    const dots=(pts,col,op)=>g.append("g").selectAll("circle").data(pairs(pts)).join("circle")
      .attr("cx",d=>x(d[0])).attr("cy",d=>y(d[1])).attr("r",DOT_R).attr("fill",col).attr("opacity",op);
    dots(a,BLUE,.7);
    dots(b,ORANGE,.7);
    dots(core,ORANGE,.88);
    if(!leg) return;
    classLabels.forEach((lab,i)=>{
      g.append("circle").attr("cx",leg.mx).attr("cy",leg.my+i*leg.dy).attr("r",DOT_R)
        .attr("fill",i?ORANGE:BLUE).attr("opacity",.7);
      g.append("text").attr("x",leg.tx).attr("y",leg.my+i*leg.dy+7).attr("text-anchor","middle")
        .attr("font-size",19).text(lab);
    });
  };
}

const xsWide=[-100,-75,-50,-25,0,25,50],xsNarrow=[-40,-20,0,20,40],ysTens=[-40,-30,-20,-10,0,10,20,30,40],ysCount=[0,20,40,60,80,100,120];
frame({l:88,r:679,t:82,b:538,xd:[-120.7,70.7],yd:[-64,69.6],xt:xsWide,yt:[-60,-40,-20,0,20,40,60],tx:382,ty:70,title:"PCA PC1–PC2",
  draw:scatter(top12A,top12B,top12Core,{mx:126,my:111,dy:30.5,tx:167})});
frame({l:756,r:1345,t:82,b:538,xd:[-120.7,70.7],yd:[-56.4,61.4],xt:xsWide,yt:[-40,-20,0,20,40,60],tx:1050,ty:70,title:"PCA PC1–PC3",
  draw:scatter(top13A,top13B,top13Core)});
frame({l:1442,r:2031,t:80,b:534,xd:[-3.99,4.15],yd:[0,122.85],xt:[-3,-2,-1,0,1,2,3,4],yt:ysCount,tx:1734,ty:67,title:"LDA separation",
  draw:hist(ldaTopA,[-3.62,3.12],ldaTopB,[-3.166,3.78])});
frame({l:60,r:668,t:722,b:1190,xd:[-44.6,47.1],yd:[-45,41.1],xt:xsNarrow,yt:ysTens,tx:362,ty:709,title:"PCA PC1–PC2",
  draw:scatter(bot12A,bot12B,bot12Core,{mx:597,my:751,dy:31,tx:640})});
frame({l:747,r:1354,t:722,b:1189,xd:[-44.6,46.8],yd:[-40.2,41.7],xt:xsNarrow,yt:ysTens,tx:1050,ty:709,title:"PCA PC1–PC3",
  draw:scatter(bot13A,bot13B,bot13Core)});
frame({l:1456,r:2055,t:722,b:1185,xd:[-4.5,4.74],yd:[0,123.1],xt:[-4,-2,0,2,4],yt:ysCount,tx:1754,ty:710,title:"LDA separation",
  draw:hist(ldaBotA,[-4.09,3.2],ldaBotB,[-2.83,4.32])});

[[1023,24],[1022,661]].forEach(([x,y])=>svg.append("text").attr("x",x).attr("y",y).attr("text-anchor","middle").attr("font-size",24).text(superTitle));

// Three small specks left of the last panel
[1023,1081,1140].forEach(y=>svg.append("rect").attr("x",1379).attr("y",y).attr("width",2).attr("height",2).attr("fill","#555"));
</script></body></html>
